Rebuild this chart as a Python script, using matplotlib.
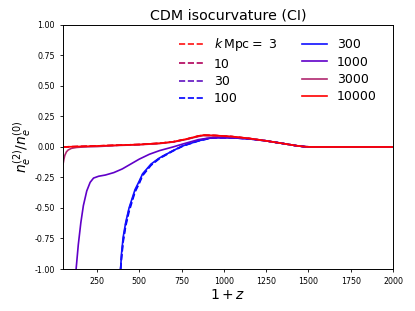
import matplotlib
matplotlib.use('Agg')
import matplotlib.pyplot as plt

# k values and line styles
k_labels = [r'$k\,\mathrm{Mpc} =$ 3', '10', '30', '100', '300', '1000', '3000', '10000']
k_colors = ['#ff1010', '#b0005a', '#6010c0', '#0000ff',
            '#1010ff', '#6000c8', '#b02870', '#ff0000']
k_styles = ['--', '--', '--', '--', '-', '-', '-', '-']

# 1+z and n_e^(2)/n_e^(0) for each k
x_flat = [50, 100, 200, 370, 500, 620, 700, 780, 850, 880, 950, 1050, 1150,
          1250, 1350, 1430, 1480, 1520, 1600, 2000]
y_k3 = [0.0, 0.002, 0.006, 0.014, 0.02, 0.03, 0.042, 0.065, 0.09, 0.097,
        0.094, 0.085, 0.07, 0.05, 0.028, 0.01, 0.002, 0.0, 0.0, 0.0]
y_k10 = [0.0, 0.002, 0.006, 0.014, 0.02, 0.03, 0.042, 0.064, 0.088, 0.095,
         0.093, 0.084, 0.069, 0.05, 0.028, 0.01, 0.002, 0.0, 0.0, 0.0]
y_k10000 = y_k3

x_k3000 = [50, 55, 60, 70, 80, 100, 130, 170, 250, 370, 500, 620, 700, 780,
           850, 880, 950, 1050, 1150, 1250, 1350, 1430, 1480, 1520, 1600, 2000]
y_k3000 = [-0.14, -0.1, -0.07, -0.04, -0.025, -0.011, -0.004, 0.0, 0.003,
           0.012, 0.018, 0.028, 0.04, 0.062, 0.086, 0.093, 0.092, 0.084, 0.069,
           0.05, 0.028, 0.01, 0.002, 0.0, 0.0, 0.0]

x_steep = [390, 395, 405, 420, 440, 475, 500, 520, 570, 620, 700, 760, 850,
           920, 960, 1050, 1150, 1250, 1350, 1430, 1480, 1520, 1600, 2000]
y_k300 = [-1.0, -0.88, -0.74, -0.62, -0.5, -0.35, -0.28, -0.22, -0.14, -0.09,
          -0.03, 0.01, 0.05, 0.072, 0.075, 0.075, 0.066, 0.05, 0.028, 0.01,
          0.002, 0.0, 0.0, 0.0]
y_k100 = [-1.0, -0.92, -0.78, -0.65, -0.53, -0.37, -0.3, -0.235, -0.15, -0.095,
          -0.033, 0.008, 0.049, 0.071, 0.075, 0.075, 0.066, 0.05, 0.028, 0.01,
          0.002, 0.0, 0.0, 0.0]
y_k30 = [-1.0, -0.9, -0.76, -0.63, -0.51, -0.36, -0.29, -0.225, -0.145, -0.09,
         -0.03, 0.012, 0.053, 0.076, 0.078, 0.077, 0.067, 0.05, 0.028, 0.01,
         0.002, 0.0, 0.0, 0.0]

x_k1000 = [127, 140, 155, 170, 190, 210, 230, 260, 300, 350, 400, 450, 500,
           560, 620, 700, 760, 850, 920, 960, 1050, 1150, 1250, 1350, 1430,
           1480, 1520, 1600, 2000]
y_k1000 = [-1.0, -0.8, -0.62, -0.48, -0.36, -0.29, -0.255, -0.24, -0.23,
           -0.21, -0.18, -0.14, -0.1, -0.06, -0.03, 0.0, 0.025, 0.06, 0.075,
           0.076, 0.075, 0.066, 0.05, 0.028, 0.01, 0.002, 0.0, 0.0, 0.0]

xs = [x_flat, x_flat, x_steep, x_steep, x_steep, x_k1000, x_k3000, x_flat]
ys = [y_k3, y_k10, y_k30, y_k100, y_k300, y_k1000, y_k3000, y_k10000]

fig = plt.figure(figsize=(4.15, 3.11), dpi=100)
ax = fig.add_axes([0.152, 0.135, 0.795, 0.785])

for x, y, c, ls, lab in zip(xs, ys, k_colors, k_styles, k_labels):
    ax.plot(x, y, ls, color=c, lw=1.2, label=lab)

ax.set_xlim(50, 2000)
ax.set_ylim(-1, 1)
ax.set_xticks([250, 500, 750, 1000, 1250, 1500, 1750, 2000])
ax.set_yticks([-1, -0.75, -0.5, -0.25, 0, 0.25, 0.5, 0.75, 1])
ax.yaxis.set_major_formatter(matplotlib.ticker.FormatStrFormatter('%.2f'))
ax.tick_params(labelsize=5.7, width=0.6, length=2.5)
for s in ax.spines.values():
    s.set_linewidth(0.7)

ax.set_xlabel(r'$1+z$', fontsize=10, labelpad=1)
ax.set_ylabel(r'$n_e^{(2)}/n_e^{(0)}$', fontsize=10, labelpad=1)
ax.set_title('CDM isocurvature (CI)', fontsize=10.3, pad=4)
ax.legend(ncol=2, frameon=False, fontsize=9, loc='upper right',
          bbox_to_anchor=(0.985, 1.0), columnspacing=2.0, labelspacing=0.35)

fig.savefig('out.png', dpi=100)
